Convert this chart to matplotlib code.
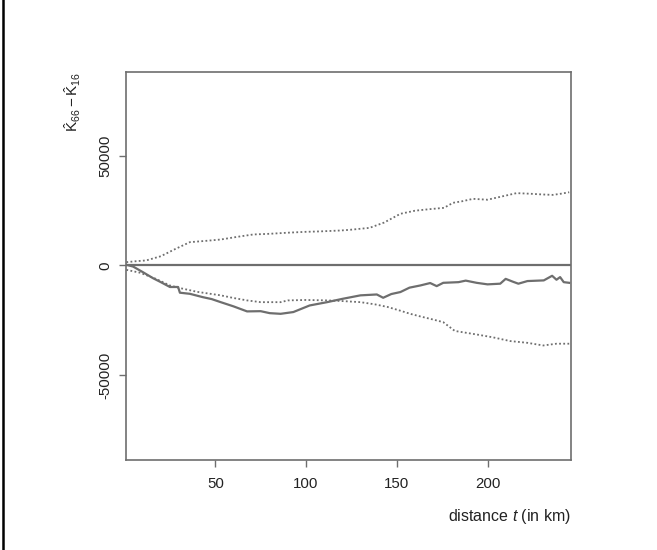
import matplotlib.pyplot as plt
from matplotlib.lines import Line2D

# difference of K-functions (1966 vs 1916) and the simulation envelopes
t_obs = [1, 4.7, 10, 15.7, 20, 25, 29.5, 30.5, 36, 43, 48, 53, 60, 67.5, 75, 80, 86, 93,
         102, 111.6, 120, 130, 139, 142.5, 147, 152, 157, 163, 168.4, 172, 175.6, 184,
         188, 194, 200, 207, 210, 214, 217, 222, 231, 235.6, 238, 240, 242, 245]
k_diff = [300, -500, -3000, -5800, -7600, -9800, -9800, -12400, -12900, -14400, -15300,
          -16700, -18600, -20900, -20800, -21700, -22000, -21200, -18200, -16700, -15200,
          -13600, -13200, -14700, -13000, -12100, -10100, -9100, -8000, -9400, -7900,
          -7600, -6900, -7900, -8600, -8300, -6100, -7400, -8300, -7100, -6800, -4700,
          -6500, -5300, -7600, -7900]

t_env = [1, 6, 12, 20, 28, 36, 45, 53, 62, 71, 80, 90, 100, 108, 119, 124, 135, 143,
         152, 160, 168, 176, 181, 186, 192, 200, 208, 216, 224, 230, 236, 241, 245]
env_hi = [1500, 1900, 2300, 4200, 7500, 10600, 11200, 11800, 13000, 14100, 14400, 14900,
          15300, 15500, 15900, 16200, 17100, 19500, 23500, 24900, 25600, 26200, 28500,
          29200, 30300, 29900, 31400, 32900, 32600, 32300, 32100, 32700, 33300]

t_env_lo = [1, 8.5, 17, 25, 30.6, 40, 53, 60, 67.5, 75, 86, 90, 100, 111.6, 120, 130,
            138, 145, 152, 157.4, 163, 170, 175.6, 182, 194, 203, 212.5, 222, 230.7,
            238, 245]
env_lo = [-2000, -3300, -6000, -9100, -10300, -12000, -13600, -14800, -15900, -16700,
          -16700, -15900, -15700, -15900, -16200, -16700, -17700, -18900, -20600, -22000,
          -23200, -24600, -25800, -29800, -31400, -32700, -34400, -35200, -36400,
          -35600, -35600]

grey = '#6e6e6e'
plt.rcParams['font.family'] = ['Liberation Sans', 'DejaVu Sans']
plt.rcParams['mathtext.fontset'] = 'custom'
plt.rcParams['mathtext.rm'] = 'Liberation Sans'
plt.rcParams['mathtext.it'] = 'Liberation Sans:italic'
fig = plt.figure(figsize=(6.57, 5.5), dpi=100)
ax = fig.add_axes([126/657, 1 - 460/550, 445/657, 388/550])

ax.plot(t_obs, k_diff, color=grey, lw=1.6)
ax.plot(t_env, env_hi, color=grey, lw=1.3, linestyle=(0, (1, 1.3)))
ax.plot(t_env_lo, env_lo, color=grey, lw=1.3, linestyle=(0, (1, 1.3)))
ax.axhline(0, color=grey, lw=1.6)

ax.set_xlim(0.8, 246)
ax.set_ylim(-88500, 88000)
ax.set_xticks([50, 100, 150, 200])
ax.set_yticks([-50000, 0, 50000])
ax.set_yticklabels(['-50000', '0', '50000'], rotation=90, va='center')
for s in ax.spines.values():
    s.set_color(grey)
    s.set_linewidth(1.2)
ax.tick_params(direction='out', length=5, width=1, color=grey, labelsize=10.8,
               labelcolor='#222222')
ax.tick_params(axis='y', pad=5)
ax.tick_params(axis='x', pad=7)

fig.text(73/657, 1 - 102/550, r'$\hat{\mathrm{K}}_{66} - \hat{\mathrm{K}}_{16}$',
         rotation=90, ha='center', va='center', fontsize=11, color='#222222')
fig.text(571/657, 1 - 516/550, r'distance $\mathit{t}$ (in km)', ha='right',
         va='center', fontsize=11.5, color='#222222')

fig.add_artist(Line2D([3/657, 3/657], [0, 1], color='black', lw=1.8,
                      transform=fig.transFigure))

fig.savefig('out.png', dpi=100)
